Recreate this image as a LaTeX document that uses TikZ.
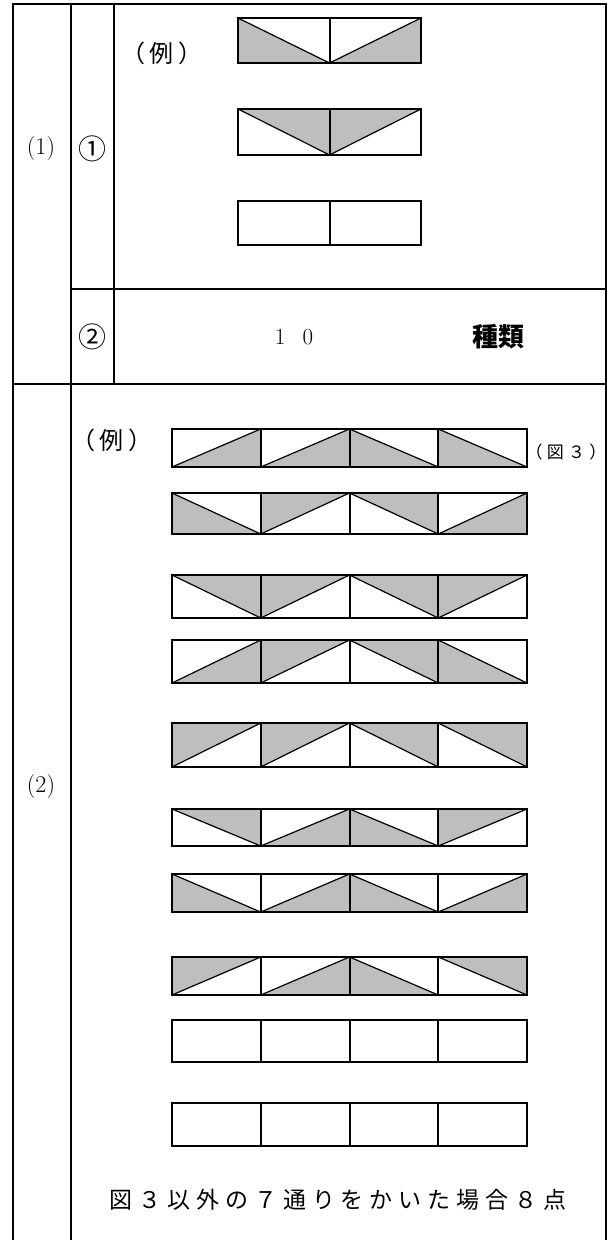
\documentclass[tikz,border=0pt]{standalone}
\usepackage{fontspec}
\newfontfamily\jpfont{Noto Sans CJK JP}
\newfontfamily\jpspaced[LetterSpace=26]{Noto Sans CJK JP}
\definecolor{cellgray}{RGB}{190,190,190}

% one square of the strip: 0 empty, 1 lower left, 2 upper right, 3 lower right, 4 upper left shaded
\newcommand{\tricell}[5]{%
  \ifcase#5\relax
  \or
    \fill[cellgray] (#1,#2) -- (#1,#2+#4) -- (#1+#3,#2+#4) -- cycle;
    \draw[diagline] (#1,#2) -- (#1+#3,#2+#4);
  \or
    \fill[cellgray] (#1,#2) -- (#1+#3,#2) -- (#1+#3,#2+#4) -- cycle;
    \draw[diagline] (#1,#2) -- (#1+#3,#2+#4);
  \or
    \fill[cellgray] (#1,#2+#4) -- (#1+#3,#2+#4) -- (#1+#3,#2) -- cycle;
    \draw[diagline] (#1,#2+#4) -- (#1+#3,#2);
  \or
    \fill[cellgray] (#1,#2+#4) -- (#1,#2) -- (#1+#3,#2) -- cycle;
    \draw[diagline] (#1,#2+#4) -- (#1+#3,#2);
  \fi
  \draw[cellline] (#1,#2) rectangle (#1+#3,#2+#4);}

\begin{document}
\begin{tikzpicture}[x=1pt,y=-1pt,inner sep=0pt,outer sep=0pt,
tabline/.style={line width=2.2pt,line cap=rect},
cellline/.style={line width=2pt},
diagline/.style={line width=1.2pt},
lbl/.style={font=\fontsize{24pt}{26pt}\selectfont},
circ/.style={font=\fontsize{28pt}{30pt}\selectfont\jpfont}]

\useasboundingbox (0,0) rectangle (609,1240);

% table
\draw[tabline] (13,1240) -- (13,4) -- (606,4) -- (606,1240);
\draw[tabline] (71,4) -- (71,1240);
\draw[tabline] (114,4) -- (114,384);
\draw[tabline] (71,289) -- (606,289);
\draw[tabline] (13,384) -- (606,384);

\draw (41,149) node[lbl] (p1) {(1)};
\draw (92,149) node[circ] (c1) {①};
\draw (92,337) node[circ] (c2) {②};
\draw (41,787) node[lbl] (p2) {(2)};

% (1) strips of two squares
\draw (162,53) node[lbl] (ex1) {\jpfont （\hspace{0.2em}例\hspace{0.2em}）};
\foreach \yt/\h/\ka/\kb in {18/45/1/3,109/46/2/4,201/44/0/0}{
  \tricell{238}{\yt}{91.5}{\h}{\ka}
  \tricell{329.5}{\yt}{91.5}{\h}{\kb}
}
\draw (294,337) node[font=\fontsize{23pt}{25pt}\selectfont] (ten) {1\hspace{0.75em}0};
\draw (498,337) node[font=\fontsize{26pt}{28pt}\selectfont] (kind) {\jpfont\bfseries 種類};

% (2) strips of four squares
\draw (112,440) node[lbl] (ex2) {\jpfont （\hspace{0.2em}例\hspace{0.2em}）};
\foreach \yt/\h/\pat in {429/38/{3,3,1,1},493/41/{1,4,2,3},575/43/{2,4,2,4},
  640/43/{3,4,2,1},723/44/{4,4,2,2},809/37/{2,3,1,4},874/38/{1,3,1,3},
  957/38/{4,3,1,2},1020/42/{0,0,0,0},1103/43/{0,0,0,0}}{
  \foreach \kc [count=\i from 0] in \pat{
    \tricell{172+\i*88.75}{\yt}{88.75}{\h}{\kc}
  }
}
\draw (566,452) node[font=\fontsize{17pt}{19pt}\selectfont] (fig3) {\jpfont （\hspace{0.25em}図\hspace{0.25em}３\hspace{0.25em}）};
\draw (338,1200) node[font=\fontsize{23pt}{25pt}\selectfont] (note) {\jpspaced 図３以外の７通りをかいた場合８点};
\end{tikzpicture}
\end{document}
